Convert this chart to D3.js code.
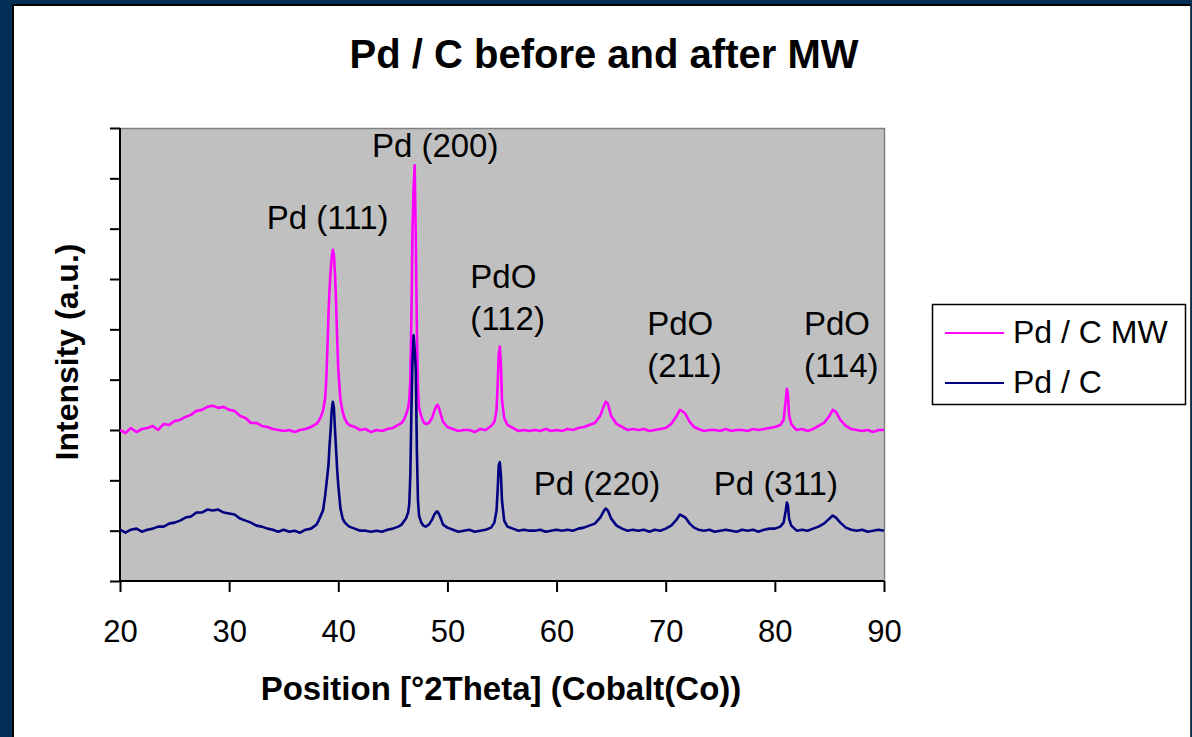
<!DOCTYPE html>
<html lang="en">
<head>
  <meta charset="utf-8">
  <title>Pd / C before and after MW</title>
  <script src="https://d3js.org/d3.v7.min.js"></script>
  <style>
  body { margin: 0; background: #012f55; }
  svg { display: block; font-family: Arial, "Liberation Sans", sans-serif; }
  </style>
</head>
<body>
  <script>
  // 2theta positions (deg), denser around the peaks
  var twoTheta = [
    20, 20.5, 21, 21.5, 22, 22.5, 23, 23.5, 24, 24.5, 25, 25.5, 26, 26.5, 27, 27.5, 28, 28.5, 29, 29.5,
    30, 30.5, 31, 31.5, 32, 32.5, 33, 33.5, 34, 34.5, 35, 35.5, 36, 36.5, 37, 37.5, 38,
    38.2, 38.4, 38.6, 38.8, 38.9, 39.0, 39.1, 39.2, 39.3, 39.4, 39.5, 39.6, 39.7, 39.8, 39.9, 40.0, 40.2, 40.4, 40.6, 40.8, 41.0,
    41.5, 42, 42.5, 43, 43.5, 44, 44.5, 45, 45.5,
    45.8, 46.0, 46.2, 46.4, 46.5, 46.6, 46.7, 46.8, 46.9, 47.0, 47.1, 47.2, 47.3, 47.4, 47.6, 47.8, 48.0, 48.3, 48.6, 48.8, 49.0, 49.1, 49.2, 49.4, 49.6, 50.0,
    50.5, 51, 51.5, 52, 52.5, 53, 53.5, 54,
    54.3, 54.5, 54.6, 54.7, 54.8, 54.9, 55.0, 55.2, 55.5,
    56, 56.5, 57, 57.5, 58, 58.5, 59, 59.5, 60, 60.5, 61, 61.5, 62, 62.5, 63,
    63.5, 64.0, 64.3, 64.5, 64.7, 65.0, 65.5,
    66, 66.5, 67, 67.5, 68, 68.5, 69, 69.5, 70,
    70.5, 71.0, 71.3, 71.5, 71.8, 72.2, 72.6,
    73, 73.5, 74, 74.5, 75, 75.5, 76, 76.5, 77, 77.5, 78, 78.5, 79, 79.5, 80,
    80.5, 80.8, 81.0, 81.1, 81.2, 81.3, 81.5, 81.8,
    82, 82.5, 83, 83.5, 84, 84.5, 85, 85.3, 85.6, 86, 86.5, 87,
    87.5, 88, 88.5, 89, 89.5, 90
  ];

  // Pd / C MW (magenta)
  var pdcMW = [
    1500, 1470, 1520, 1480, 1510, 1520, 1540, 1500, 1560, 1550, 1590, 1600, 1630, 1650, 1690, 1700, 1730, 1740, 1720, 1730,
    1700, 1690, 1640, 1620, 1570, 1570, 1540, 1530, 1510, 1500, 1490, 1500, 1480, 1500, 1510, 1530, 1560,
    1590, 1630, 1690, 1820, 2000, 2300, 2650, 2900, 3080, 3220, 3290, 3240, 3050, 2750, 2400, 2100, 1800, 1680, 1610, 1570, 1550,
    1530, 1500, 1510, 1480, 1500, 1490, 1510, 1520, 1550,
    1570, 1600, 1650, 1720, 1800, 2000, 2600, 3500, 3900, 4130, 3400, 2500, 1900, 1720, 1640, 1580, 1560, 1570, 1620, 1690, 1740, 1750, 1730, 1650, 1580, 1530,
    1510, 1490, 1500, 1500, 1480, 1510, 1500, 1540,
    1580, 1700, 1950, 2250, 2330, 2150, 1800, 1620, 1550,
    1520, 1490, 1500, 1490, 1500, 1490, 1510, 1490, 1500, 1490, 1510, 1500, 1520, 1530, 1550,
    1570, 1640, 1730, 1780, 1760, 1640, 1560,
    1530, 1500, 1510, 1500, 1510, 1490, 1500, 1510, 1520,
    1560, 1640, 1700, 1690, 1660, 1580, 1530,
    1510, 1490, 1500, 1500, 1490, 1510, 1490, 1500, 1500, 1490, 1510, 1500, 1510, 1520, 1530,
    1550, 1600, 1800, 1910, 1850, 1650, 1560, 1520,
    1500, 1510, 1490, 1510, 1540, 1570, 1640, 1700, 1680, 1600, 1540, 1510,
    1500, 1490, 1500, 1480, 1500, 1500
  ];

  // Pd / C (navy)
  var pdc = [
    510, 480, 510, 520, 490, 510, 520, 540, 540, 570, 580, 600, 630, 640, 680, 680, 710, 700, 710, 680,
    670, 660, 620, 600, 580, 550, 540, 520, 510, 490, 510, 490, 500, 480, 510, 520, 560,
    600, 650, 700, 850, 950, 1050, 1150, 1350, 1500, 1700, 1780, 1720, 1500, 1300, 1100, 950, 720, 620, 580, 560, 540,
    520, 500, 500, 490, 500, 490, 510, 520, 540,
    560, 590, 620, 680, 760, 1050, 1700, 2200, 2440, 2300, 2100, 1300, 800, 650, 580, 550, 540, 560, 610, 660, 690, 690, 670, 620, 560, 530,
    510, 490, 500, 510, 490, 500, 510, 530,
    580, 700, 900, 1150, 1180, 1050, 800, 600, 540,
    520, 500, 510, 500, 500, 510, 490, 500, 510, 500, 510, 500, 520, 530, 550,
    570, 630, 690, 720, 700, 620, 550,
    520, 500, 510, 500, 510, 490, 510, 500, 520,
    550, 610, 660, 650, 630, 570, 530,
    510, 500, 510, 490, 500, 510, 500, 490, 510, 500, 510, 490, 510, 520, 520,
    540, 580, 700, 780, 750, 620, 550, 520,
    500, 510, 500, 520, 540, 570, 620, 650, 630, 580, 530, 510,
    500, 510, 490, 500, 510, 500
  ];

  var seriesNames = ["Pd / C MW", "Pd / C"];
  var seriesColors = ["#ff00ff", "#000080"];
  var xTicks = [20, 30, 40, 50, 60, 70, 80, 90];

  // peak labels: text lines, left edge (deg) and first baseline (intensity)
  var peakText = [["Pd (111)"], ["Pd (200)"], ["PdO", "(112)"], ["PdO", "(211)"], ["PdO", "(114)"], ["Pd (220)"], ["Pd (311)"]];
  var peakX = [33.45, 43.08, 52.1, 68.3, 82.67, 57.9, 74.41];
  var peakY = [3494, 4215, 2908, 2444, 2444, 854, 854];

  var width = 1192, height = 737;
  var margin = {top: 128, right: 308, bottom: 156, left: 120};

  var svg = d3.select("body").append("svg")
    .attr("width", width)
    .attr("height", height);

  // white panel with frame
  svg.append("rect")
    .attr("x", 13).attr("y", 5)
    .attr("width", 1177).attr("height", 740)
    .attr("fill", "white");
  svg.append("line").attr("x1", 12).attr("y1", 5).attr("x2", 1191).attr("y2", 5)
    .attr("stroke", "black").attr("stroke-width", 2);
  svg.append("line").attr("x1", 13).attr("y1", 4).attr("x2", 13).attr("y2", 737)
    .attr("stroke", "black").attr("stroke-width", 2);
  svg.append("line").attr("x1", 1190.5).attr("y1", 5).attr("x2", 1190.5).attr("y2", 737)
    .attr("stroke", "#404040").attr("stroke-width", 1);

  var x = d3.scaleLinear().domain([20, 90]).range([margin.left, width - margin.right]);
  var y = d3.scaleLinear().domain([0, 4500]).range([height - margin.bottom, margin.top]);

  var x0 = x.range()[0], x1 = x.range()[1];
  var yb = y.range()[0], yt = y.range()[1];

  // plot area
  svg.append("rect")
    .attr("x", x0).attr("y", yt)
    .attr("width", x1 - x0).attr("height", yb - yt)
    .attr("fill", "#c0c0c0");
  svg.append("path")
    .attr("d", "M" + x0 + "," + (yt + 0.5) + "H" + (x1 + 0.5) + "V" + yb)
    .attr("fill", "none")
    .attr("stroke", "#808080")
    .attr("stroke-width", 1.5);

  // axes
  var yAxis = svg.append("g")
    .attr("transform", "translate(" + x0 + ",0)")
    .call(d3.axisLeft(y).tickValues(d3.range(0, 4501, 500)).tickSize(10).tickFormat(""));
  yAxis.select(".domain").remove();
  yAxis.selectAll(".tick line").attr("stroke", "black").attr("stroke-width", 2);

  var xAxis = svg.append("g")
    .attr("transform", "translate(0," + yb + ")")
    .call(d3.axisBottom(x).tickValues(xTicks).tickSize(11).tickPadding(28).tickFormat(d3.format("d")));
  xAxis.select(".domain").remove();
  xAxis.selectAll(".tick line").attr("stroke", "black").attr("stroke-width", 2);
  xAxis.selectAll(".tick text")
    .attr("fill", "black")
    .style("font-size", "31px")
    .style("font-family", "Arial, 'Liberation Sans', sans-serif");

  svg.append("line").attr("x1", x0).attr("y1", yt).attr("x2", x0).attr("y2", yb + 1)
    .attr("stroke", "black").attr("stroke-width", 2);
  svg.append("line").attr("x1", x0 - 1).attr("y1", yb).attr("x2", x1).attr("y2", yb)
    .attr("stroke", "black").attr("stroke-width", 2);

  // series
  var line = d3.line()
    .x(function(d, i) { return x(twoTheta[i]); })
    .y(function(d) { return y(d); });

  [pdcMW, pdc].forEach(function(s, k) {
    svg.append("path")
      .datum(s)
      .attr("d", line)
      .attr("fill", "none")
      .attr("stroke", seriesColors[k])
      .attr("stroke-width", 2.6)
      .attr("stroke-linejoin", "round");
  });

  // peak labels
  peakText.forEach(function(lines, i) {
    var t = svg.append("text")
      .attr("x", x(peakX[i]))
      .attr("y", y(peakY[i]))
      .style("font-size", "33px")
      .attr("fill", "black");
    lines.forEach(function(s, j) {
      t.append("tspan")
        .attr("x", x(peakX[i]))
        .attr("dy", j == 0 ? 0 : 42)
        .text(s);
    });
  });

  // titles
  svg.append("text")
    .attr("x", 604).attr("y", 68)
    .attr("text-anchor", "middle")
    .style("font-size", "40px").style("font-weight", "bold")
    .text("Pd / C before and after MW");

  svg.append("text")
    .attr("x", 501).attr("y", 700)
    .attr("text-anchor", "middle")
    .style("font-size", "33px").style("font-weight", "bold")
    .text("Position [°2Theta] (Cobalt(Co))");

  svg.append("text")
    .attr("transform", "translate(78,352) rotate(-90)")
    .attr("text-anchor", "middle")
    .style("font-size", "32px").style("font-weight", "bold")
    .text("Intensity (a.u.)");

  // legend
  var legend = svg.append("g").attr("transform", "translate(932,304)");
  legend.append("rect")
    .attr("x", 0.5).attr("y", 0.5)
    .attr("width", 253).attr("height", 100)
    .attr("fill", "white")
    .attr("stroke", "black")
    .attr("stroke-width", 1.5);
  seriesNames.forEach(function(n, i) {
    legend.append("line")
      .attr("x1", 13).attr("x2", 72)
      .attr("y1", 29 + i * 50).attr("y2", 29 + i * 50)
      .attr("stroke", seriesColors[i])
      .attr("stroke-width", 2);
    legend.append("text")
      .attr("x", 81).attr("y", 39 + i * 50)
      .style("font-size", "32px")
      .text(n);
  });
  </script>
</body>
</html>
